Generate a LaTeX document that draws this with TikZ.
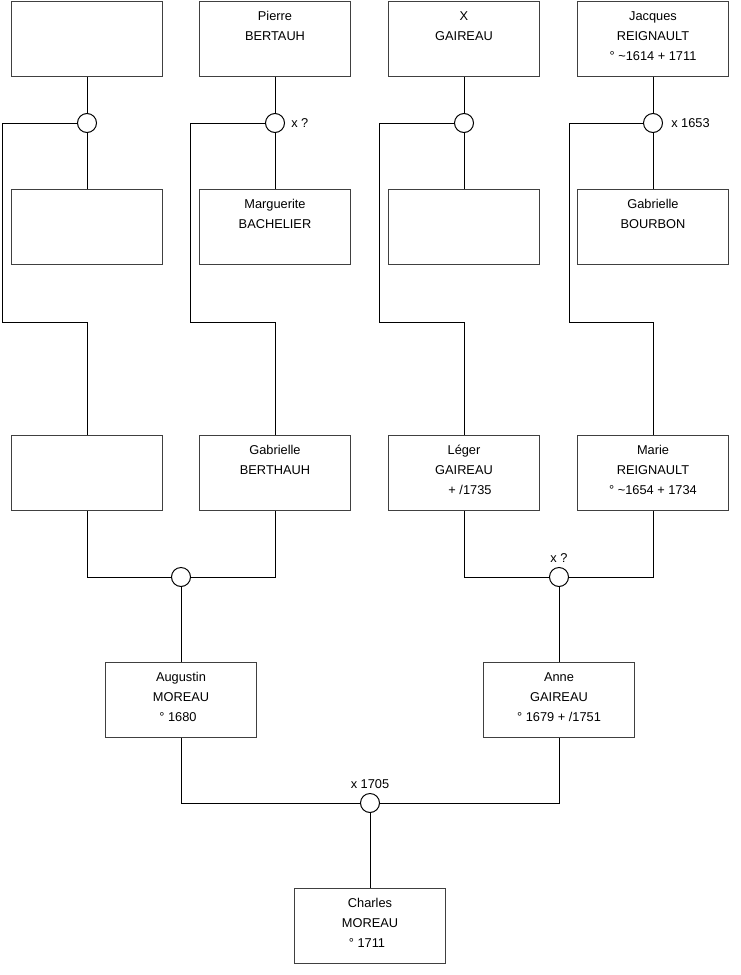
\documentclass[tikz,border=0pt]{standalone}
\usepackage{fontspec}
\setmainfont{Liberation Sans}
\begin{document}
\begin{tikzpicture}[x=0.75pt,y=-0.75pt,
  every node/.style={font=\fontsize{9.6pt}{15pt}\selectfont},
  person/.style={draw=black!75,line width=0.75pt,rectangle,inner sep=0pt,anchor=north,
    minimum width=113.25pt,minimum height=56.25pt},
  union/.style={draw=black,line width=0.75pt,fill=white,circle,inner sep=0pt,minimum size=14.25pt},
  link/.style={draw=black,line width=0.75pt},
  note/.style={inner sep=0pt,font=\fontsize{9.6pt}{11pt}\selectfont}]
\newcommand{\pbox}[1]{\parbox[t][56.25pt][t]{113.25pt}{\centering\rule{0pt}{14pt}#1}}
\useasboundingbox (0,0) rectangle (740,975);
\fill[white] (0,0) rectangle (740,975);
% row 1
\node[person] (A1) at (87,1) {\pbox{}};
\node[person] (B1) at (275,1) {\pbox{Pierre\\BERTAUH}};
\node[person] (C1) at (464,1) {\pbox{X\\GAIREAU}};
\node[person] (D1) at (653,1) {\pbox{Jacques\\REIGNAULT\\° \textasciitilde1614 + 1711}};
% row 2
\node[person] (A2) at (87,189) {\pbox{}};
\node[person] (B2) at (275,189) {\pbox{Marguerite\\BACHELIER}};
\node[person] (C2) at (464,189) {\pbox{}};
\node[person] (D2) at (653,189) {\pbox{Gabrielle\\BOURBON}};
% row 3
\node[person] (A3) at (87,435) {\pbox{}};
\node[person] (B3) at (275,435) {\pbox{Gabrielle\\BERTHAUH}};
\node[person] (C3) at (464,435) {\pbox{Léger\\GAIREAU\\\hspace*{9pt}+ /1735}};
\node[person] (D3) at (653,435) {\pbox{Marie\\REIGNAULT\\° \textasciitilde1654 + 1734}};
% row 4
\node[person] (Aug) at (181,662) {\pbox{Augustin\\MOREAU\\° 1680\hspace*{4.5pt}}};
\node[person] (Ann) at (559,662) {\pbox{Anne\\GAIREAU\\° 1679 + /1751}};
% row 5
\node[person] (Cha) at (370,888) {\pbox{Charles\\MOREAU\\° 1711\hspace*{4.5pt}}};
% unions
\node[union] (uA) at (87,123) {};
\node[union,label={[note,label distance=4.5pt]east:x ?}] (uB) at (275,123) {};
\node[union] (uC) at (464,123) {};
\node[union,label={[note,label distance=6pt]east:x 1653}] (uD) at (653,123) {};
\node[union] (uM) at (181,577) {};
\node[union,label={[note,label distance=3pt]north:x ?}] (uG) at (559,577) {};
\node[union,label={[note,label distance=3pt]north:x 1705}] (uF) at (370,803) {};
% bends
\coordinate (kA) at (2,322);
\coordinate (kB) at (190,322);
\coordinate (kC) at (379,322);
\coordinate (kD) at (569,322);
% connectors top
\foreach \n in {A,B,C,D}{
  \draw[link] (\n1.south) -- (u\n.north);
  \draw[link] (u\n.south) -- (\n2.north);
  \draw[link] (u\n.west) -| (k\n) -| (\n3.north);
}
\draw[link] (A3.south) |- (uM.west);
\draw[link] (B3.south) |- (uM.east);
\draw[link] (uM.south) -- (Aug.north);
\draw[link] (C3.south) |- (uG.west);
\draw[link] (D3.south) |- (uG.east);
\draw[link] (uG.south) -- (Ann.north);
\draw[link] (Aug.south) |- (uF.west);
\draw[link] (Ann.south) |- (uF.east);
\draw[link] (uF.south) -- (Cha.north);
\end{tikzpicture}
\end{document}
